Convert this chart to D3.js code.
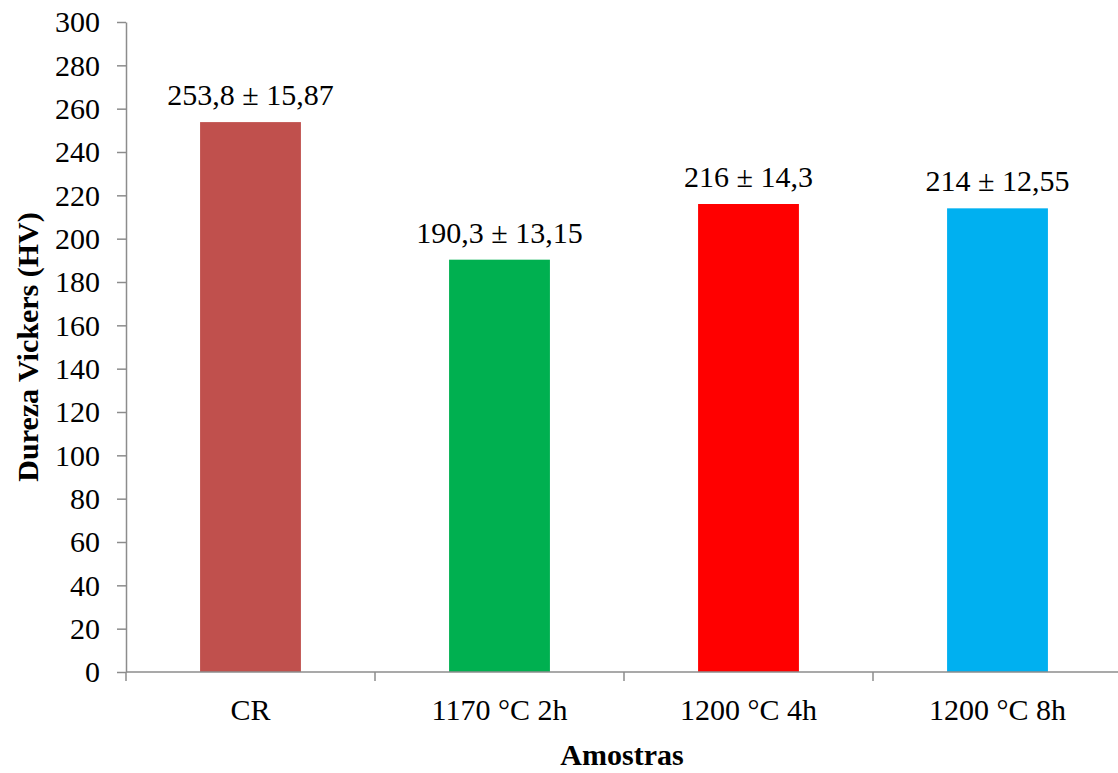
<!DOCTYPE html>
<html>
<head>
<meta charset="utf-8">
<script src="https://cdn.jsdelivr.net/npm/d3@7"></script>
<style>
  html, body { margin: 0; padding: 0; background: #fff; }
  svg { display: block; }
  text { font-family: "Liberation Serif", "Times New Roman", serif; fill: #000; }
</style>
</head>
<body>
<svg id="chart" width="1118" height="773"></svg>
<script>
// Vickers hardness per sample condition
const categories = ["CR", "1170 °C 2h", "1200 °C 4h", "1200 °C 8h"];
const hardness = [253.8, 190.3, 216, 214];
const deviation = ["15,87", "13,15", "14,3", "12,55"];
const barColors = ["#C0504D", "#00B050", "#FF0000", "#00B0F0"];
const yTicks = [0, 20, 40, 60, 80, 100, 120, 140, 160, 180, 200, 220, 240, 260, 280, 300];

const svg = d3.select("#chart");
const margin = { left: 126, top: 22, bottom: 672 };
const plotRight = 126 + 249 * 4;

const x = d3.scaleBand().domain(categories).range([margin.left, plotRight]).paddingInner(0.595).paddingOuter(0.2975);
const xTicks = d3.scaleBand().domain(categories).range([margin.left, plotRight]);
const y = d3.scaleLinear().domain([0, 300]).range([margin.bottom, margin.top]);

const axisColor = "#8c8c8c";

// bars
svg.append("g").selectAll("rect")
  .data(categories)
  .join("rect")
  .attr("x", d => x(d))
  .attr("width", x.bandwidth())
  .attr("y", (d, i) => y(hardness[i]))
  .attr("height", (d, i) => y(0) - y(hardness[i]))
  .attr("fill", (d, i) => barColors[i]);

// value labels
const fmt = v => String(v).replace(".", ",");
svg.append("g").selectAll("text")
  .data(categories)
  .join("text")
  .attr("x", d => x(d) + x.bandwidth() / 2)
  .attr("y", (d, i) => y(hardness[i]) - 17)
  .attr("text-anchor", "middle")
  .attr("font-size", 30)
  .text((d, i) => `${fmt(hardness[i])} ± ${deviation[i]}`);

// y axis
const yAxis = svg.append("g")
  .attr("transform", `translate(${margin.left},0)`)
  .call(d3.axisLeft(y).tickValues(yTicks).tickSize(9).tickPadding(17).tickSizeOuter(0));
yAxis.selectAll("line, path").attr("stroke", axisColor).attr("stroke-width", 1.5);
yAxis.selectAll("text").attr("font-size", 30).attr("font-family", "Liberation Serif").attr("fill", "#000").attr("dy", "0.33em");

// x axis
const xAxisG = svg.append("g").attr("transform", `translate(0,${margin.bottom})`);
xAxisG.append("line")
  .attr("x1", margin.left).attr("x2", plotRight)
  .attr("stroke", axisColor).attr("stroke-width", 1.5);
const boundaries = categories.map(c => xTicks(c)).concat([plotRight]);
xAxisG.selectAll("line.tick")
  .data(boundaries)
  .join("line")
  .attr("class", "tick")
  .attr("x1", d => d).attr("x2", d => d)
  .attr("y1", 0).attr("y2", 9)
  .attr("stroke", axisColor).attr("stroke-width", 1.5);
xAxisG.selectAll("text")
  .data(categories)
  .join("text")
  .attr("x", d => xTicks(d) + xTicks.bandwidth() / 2)
  .attr("y", 48)
  .attr("text-anchor", "middle")
  .attr("font-size", 30)
  .text(d => d);

// axis titles
svg.append("text")
  .attr("x", 622).attr("y", 765)
  .attr("text-anchor", "middle")
  .attr("font-size", 30)
  .attr("font-weight", "bold")
  .text("Amostras");

svg.append("text")
  .attr("transform", `translate(38,${(margin.top + margin.bottom) / 2}) rotate(-90)`)
  .attr("text-anchor", "middle")
  .attr("font-size", 30)
  .attr("font-weight", "bold")
  .text("Dureza Vickers (HV)");
</script>
</body>
</html>
